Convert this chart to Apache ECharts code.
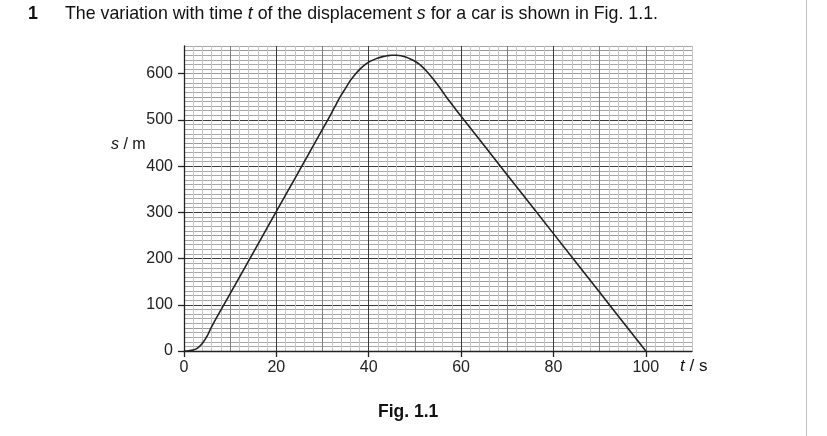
<!DOCTYPE html>
<html>
<head>
<meta charset="utf-8">
<script src="https://cdn.jsdelivr.net/npm/echarts@6/dist/echarts.min.js"></script>
<style>html,body{margin:0;padding:0;background:#fff}#c{width:827px;height:436px}</style>
</head>
<body>
<div id="c"></div>
<script>
// Data
var tValues = [0, 1, 2, 3, 4, 5, 6, 10, 20, 30, 32, 33, 34, 35, 36, 37, 38, 39, 40, 41, 42, 43, 44, 45, 46, 47, 48, 49, 50, 51, 52, 53, 54, 55, 56, 57, 58, 60, 70, 80, 90, 100];
var sValues = [0, 0.5, 2, 7, 17, 32, 53, 124, 302, 480, 516, 535, 553, 569, 585, 598, 609, 618, 625, 630, 634, 637, 639, 640, 640, 639, 636, 632, 627, 620, 611, 600, 588, 575, 561, 547, 534, 508, 381, 254, 127, 0];
var xTickLabels = [0, 20, 40, 60, 80, 100];
var yTickLabels = [0, 100, 200, 300, 400, 500, 600];

var FONT = '"Liberation Sans", Arial, sans-serif';
var pts = tValues.map(function (t, i) { return [t, sValues[i]]; });
var gridRect = { left: 184, right: 135, top: 46, bottom: 85 };

function xAx(gi, interval, color, extra) {
  return Object.assign({
    type: 'value', gridIndex: gi, min: 0, max: 110, interval: interval, position: 'bottom',
    axisLine: { show: false }, axisTick: { show: false }, axisLabel: { show: false },
    splitLine: { show: true, lineStyle: { color: color, width: 1 } }
  }, extra || {});
}
function yAx(gi, interval, color, extra) {
  return Object.assign({
    type: 'value', gridIndex: gi, min: 0, max: 660, interval: interval, position: 'left',
    axisLine: { show: false }, axisTick: { show: false }, axisLabel: { show: false },
    splitLine: { show: true, lineStyle: { color: color, width: 1 } }
  }, extra || {});
}

var option = {
  animation: false,
  backgroundColor: '#fff',
  grid: [
    Object.assign({}, gridRect),
    Object.assign({}, gridRect),
    Object.assign({}, gridRect)
  ],
  xAxis: [
    xAx(0, 2, '#c6c6c6'),
    xAx(1, 10, '#808080', { splitLine: { show: true, showMinLine: false, showMaxLine: false, lineStyle: { color: '#808080', width: 1 } } }),
    xAx(2, 20, '#3a3a3a', {
      splitLine: { show: true, showMinLine: false, showMaxLine: false, lineStyle: { color: '#3a3a3a', width: 1 } },
      axisLine: { show: true, onZero: false, lineStyle: { color: '#222', width: 1.3 } },
      axisTick: { show: true, inside: false, length: 6, customValues: xTickLabels, lineStyle: { color: '#222', width: 1.3 } },
      axisLabel: { show: true, margin: 9, customValues: xTickLabels, color: '#222', fontSize: 16, fontFamily: FONT }
    })
  ],
  yAxis: [
    yAx(0, 10, '#a8a8a8'),
    yAx(1, 50, '#9a9a9a', { splitLine: { show: true, showMinLine: false, showMaxLine: false, lineStyle: { color: '#9a9a9a', width: 1 } } }),
    yAx(2, 100, '#3a3a3a', {
      splitLine: { show: true, showMinLine: false, showMaxLine: false, lineStyle: { color: '#3a3a3a', width: 1 } },
      axisLine: { show: true, onZero: false, lineStyle: { color: '#222', width: 1.3 } },
      axisTick: { show: true, inside: false, length: 6, customValues: yTickLabels, lineStyle: { color: '#222', width: 1.3 } },
      axisLabel: { show: true, margin: 11, customValues: yTickLabels, color: '#222', fontSize: 16, fontFamily: FONT }
    })
  ],
  series: [{
    type: 'line', xAxisIndex: 2, yAxisIndex: 2, data: pts,
    smooth: 0.4, showSymbol: false, symbol: 'none',
    lineStyle: { color: '#222', width: 1.6 }, z: 5
  }],
  graphic: [
    { type: 'line', shape: { x1: 806.5, y1: 0, x2: 806.5, y2: 436 }, style: { stroke: '#c0c0c0', lineWidth: 1 } },
    { type: 'text', left: 28, top: 5, style: { text: '1', font: 'bold 17.8px ' + FONT, fill: '#111' } },
    { type: 'text', left: 65, top: 5, style: {
        text: 'The variation with time {i|t} of the displacement {i|s} for a car is shown in Fig. 1.1.',
        font: '17.8px ' + FONT, fill: '#111',
        rich: { i: { fontStyle: 'italic', fontSize: 17.8, fontFamily: FONT, fill: '#111' } }
    } },
    { type: 'text', left: 111, top: 137, style: {
        text: '{i|s} / m', font: '16px ' + FONT, fill: '#111',
        rich: { i: { fontStyle: 'italic', fontSize: 16, fontFamily: FONT, fill: '#111' } }
    } },
    { type: 'text', left: 680, top: 358, style: {
        text: '{i|t} / s', font: '17px ' + FONT, fill: '#111',
        rich: { i: { fontStyle: 'italic', fontSize: 17, fontFamily: FONT, fill: '#111' } }
    } },
    { type: 'text', left: 378, top: 403, style: { text: 'Fig. 1.1', font: 'bold 17.5px ' + FONT, fill: '#111' } }
  ]
};
var chart = echarts.init(document.getElementById('c'), null, { renderer: 'canvas' });
chart.setOption(option);
</script>
</body>
</html>
